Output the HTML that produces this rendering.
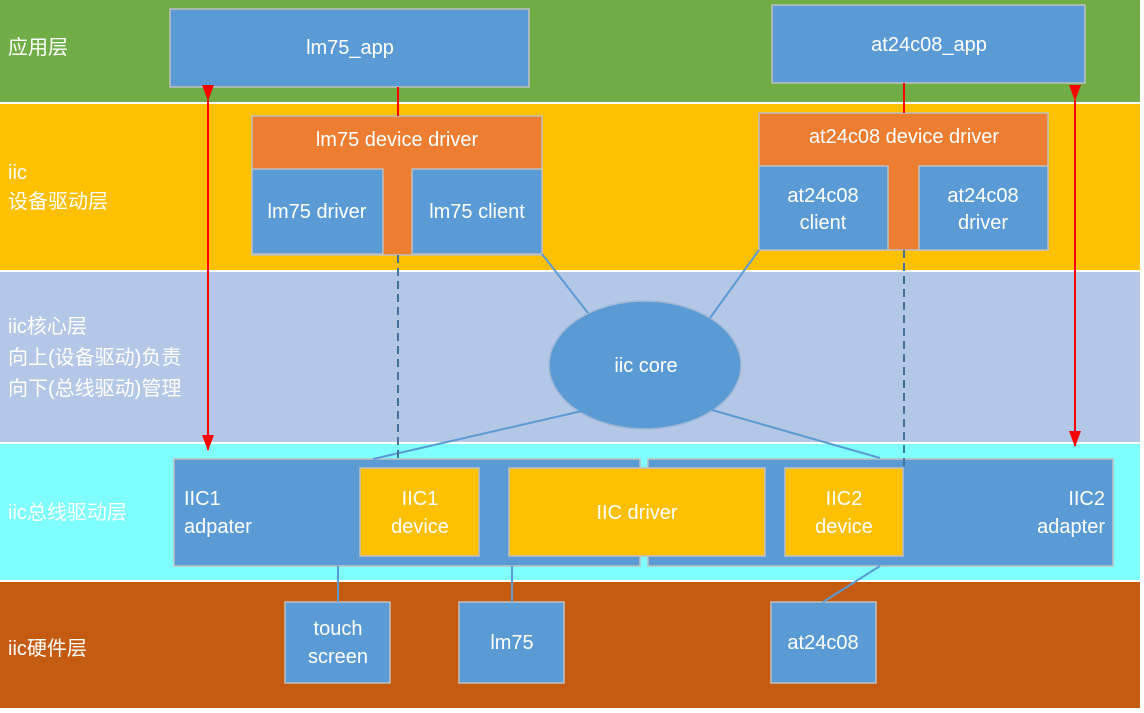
<!DOCTYPE html>
<html><head><meta charset="utf-8"><style>
body{margin:0;background:#fff}
svg text{font-family:"Liberation Sans","Noto Sans CJK SC",sans-serif;fill:#fff;font-size:20px}
</style></head><body>
<svg width="1144" height="708" xmlns="http://www.w3.org/2000/svg">
<defs>
<marker id="ah2" markerWidth="16" markerHeight="12" refX="15" refY="6" orient="auto" markerUnits="userSpaceOnUse"><path d="M0,0 L16,6 L0,12z" fill="#ff0000"/></marker>
</defs>
<rect x="0" y="0" width="1140" height="102" fill="#70ad47"/>
<rect x="0" y="104" width="1140" height="166" fill="#ffc000"/>
<rect x="0" y="272" width="1140" height="170" fill="#b4c7e7"/>
<rect x="0" y="444" width="1140" height="136" fill="#7fffff"/>
<rect x="0" y="582" width="1140" height="126" fill="#c55a11"/>
<g fill="#fff">
<text x="8" y="54">应用层</text>
<text x="8" y="179">iic</text>
<text x="8" y="208">设备驱动层</text>
<text x="8" y="333">iic核心层</text>
<text x="8" y="364">向上(设备驱动)负责</text>
<text x="8" y="395">向下(总线驱动)管理</text>
<text x="8" y="519">iic总线驱动层</text>
<text x="8" y="655">iic硬件层</text>
</g>
<g stroke="#bfbfbf" stroke-width="1.5">
<rect x="170" y="9" width="359" height="78" fill="#5b9bd5"/>
<rect x="772" y="5" width="313" height="78" fill="#5b9bd5"/>
<rect x="252" y="116" width="290" height="139" fill="#ed7d31"/>
<rect x="252" y="169" width="131" height="85" fill="#5b9bd5"/>
<rect x="412" y="169" width="130" height="85" fill="#5b9bd5"/>
<rect x="759" y="113" width="289" height="137" fill="#ed7d31"/>
<rect x="759" y="166" width="129" height="84" fill="#5b9bd5"/>
<rect x="919" y="166" width="129" height="84" fill="#5b9bd5"/>
<rect x="174" y="459" width="466" height="107" fill="#5b9bd5"/>
<rect x="648" y="459" width="465" height="107" fill="#5b9bd5"/>
<rect x="360" y="468" width="119" height="88" fill="#ffc000"/>
<rect x="509" y="468" width="256" height="88" fill="#ffc000"/>
<rect x="785" y="468" width="118" height="88" fill="#ffc000"/>
<rect x="285" y="602" width="105" height="81" fill="#5b9bd5"/>
<rect x="459" y="602" width="105" height="81" fill="#5b9bd5"/>
<rect x="771" y="602" width="105" height="81" fill="#5b9bd5"/>
</g>
<ellipse cx="645" cy="365" rx="96" ry="64" fill="#5b9bd5" stroke="#a0b8d8" stroke-width="1.5"/>
<g stroke="#5b9bd5" stroke-width="2" fill="none">
<line x1="542" y1="254" x2="588" y2="313"/>
<line x1="759" y1="250" x2="710" y2="318"/>
<line x1="582" y1="411" x2="373" y2="459"/>
<line x1="712" y1="410" x2="880" y2="458"/>
<line x1="338" y1="566" x2="338" y2="602"/>
<line x1="512" y1="566" x2="512" y2="602"/>
<line x1="880" y1="566" x2="823" y2="602"/>
</g>
<g stroke="#41719c" stroke-width="2" stroke-dasharray="8,5">
<line x1="398" y1="255" x2="398" y2="459"/>
<line x1="904" y1="250" x2="904" y2="468"/>
</g>
<g stroke="#ff0000" stroke-width="2">
<line x1="398" y1="87" x2="398" y2="116"/>
<line x1="904" y1="83" x2="904" y2="113"/>
<line x1="208" y1="100" x2="208" y2="450" marker-start="url(#ah2)" marker-end="url(#ah2)"/>
<line x1="1075" y1="100" x2="1075" y2="446" marker-start="url(#ah2)" marker-end="url(#ah2)"/>
</g>
<g text-anchor="middle">
<text x="350" y="54">lm75_app</text>
<text x="929" y="51">at24c08_app</text>
<text x="397" y="146">lm75 device driver</text>
<text x="317" y="218">lm75 driver</text>
<text x="477" y="218">lm75 client</text>
<text x="904" y="143">at24c08 device driver</text>
<text x="823" y="202">at24c08</text>
<text x="823" y="229">client</text>
<text x="983" y="202">at24c08</text>
<text x="983" y="229">driver</text>
<text x="646" y="372">iic  core</text>
<text x="420" y="505">IIC1</text>
<text x="420" y="533">device</text>
<text x="637" y="519">IIC driver</text>
<text x="844" y="505">IIC2</text>
<text x="844" y="533">device</text>
<text x="338" y="635">touch</text>
<text x="338" y="663">screen</text>
<text x="512" y="649">lm75</text>
<text x="823" y="649">at24c08</text>
</g>
<text x="184" y="505">IIC1</text>
<text x="184" y="533">adpater</text>
<g text-anchor="end">
<text x="1105" y="505">IIC2</text>
<text x="1105" y="533">adapter</text>
</g>
</svg>
</body></html>
